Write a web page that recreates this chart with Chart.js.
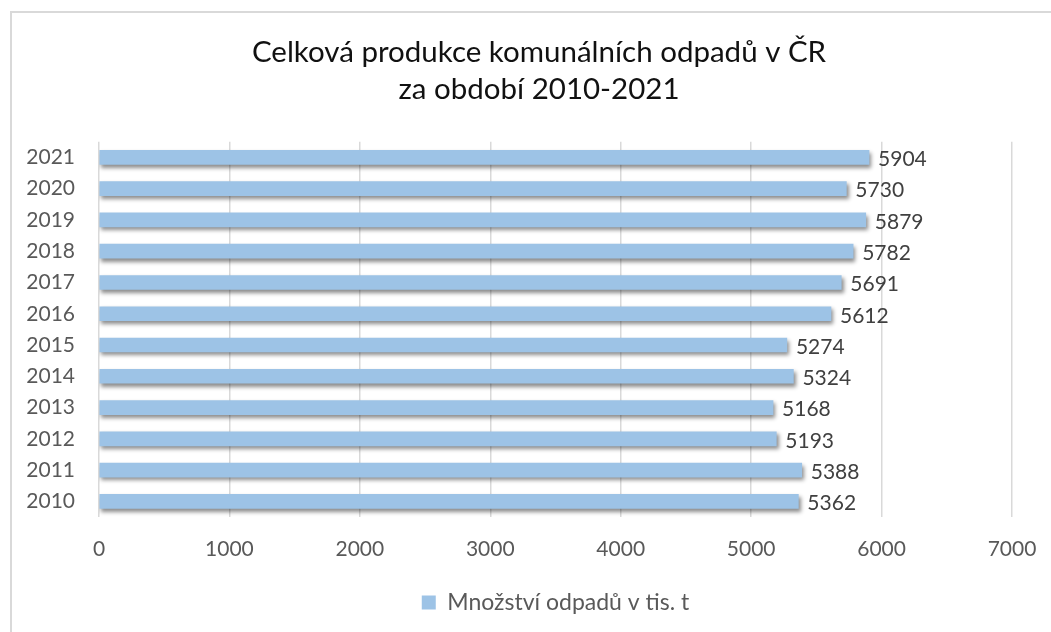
<!DOCTYPE html>
<html>
<head>
<meta charset="utf-8">
<script src="https://cdn.jsdelivr.net/npm/chart.js@4/dist/chart.umd.min.js"></script>
<style>
  html, body { margin: 0; padding: 0; background: #fff; }
  #wrap { width: 1051px; height: 632px; position: relative; }
</style>
</head>
<body>
<div id="wrap"><canvas id="c" width="1051" height="632"></canvas></div>
<script>
const years = ["2021", "2020", "2019", "2018", "2017", "2016", "2015", "2014", "2013", "2012", "2011", "2010"];
const amounts = [5904, 5730, 5879, 5782, 5691, 5612, 5274, 5324, 5168, 5193, 5388, 5362];
const xTicks = [0, 1000, 2000, 3000, 4000, 5000, 6000, 7000];
const seriesName = "Množství odpadů v tis. t";

const FONT = "Lato, 'Open Sans', sans-serif";

// frame lines top and left, like the exported chart
const framePlugin = {
  id: "frame",
  beforeDraw(chart) {
    const ctx = chart.ctx;
    ctx.save();
    ctx.fillStyle = "#fff";
    ctx.fillRect(0, 0, chart.width, chart.height);
    ctx.strokeStyle = "#d9d9d9";
    ctx.lineWidth = 2;
    ctx.beginPath();
    ctx.moveTo(11, chart.height);
    ctx.lineTo(11, 12);
    ctx.lineTo(chart.width, 12);
    ctx.stroke();
    ctx.restore();
  },
  afterLayout(chart) {
    // the original title sits a bit right of the canvas centre
    chart.titleBlock.left = 66;
  }
};

// soft shadow under the bars
const shadowPlugin = {
  id: "barShadow",
  beforeDatasetDraw(chart) {
    const ctx = chart.ctx;
    ctx.save();
    ctx.shadowColor = "rgba(0,0,0,0.45)";
    ctx.shadowBlur = 4;
    ctx.shadowOffsetX = 2;
    ctx.shadowOffsetY = 3;
  },
  afterDatasetDraw(chart) {
    chart.ctx.restore();
  }
};

// value labels at the end of each bar
const labelPlugin = {
  id: "valueLabels",
  afterDatasetsDraw(chart) {
    const ctx = chart.ctx;
    const meta = chart.getDatasetMeta(0);
    ctx.save();
    ctx.font = "21px " + FONT;
    ctx.fillStyle = "#404040";
    ctx.textAlign = "left";
    ctx.textBaseline = "middle";
    meta.data.forEach((bar, i) => {
      ctx.fillText(String(amounts[i]), bar.x + 9, bar.y + 2);
    });
    ctx.restore();
  }
};

new Chart(document.getElementById("c"), {
  type: "bar",
  data: {
    labels: years,
    datasets: [{
      label: seriesName,
      data: amounts,
      backgroundColor: "#9dc3e6",
      borderWidth: 0,
      barThickness: 14
    }]
  },
  plugins: [framePlugin, shadowPlugin, labelPlugin],
  options: {
    indexAxis: "y",
    responsive: false,
    animation: false,
    layout: { padding: { top: 20, right: 39, bottom: 8, left: 0 } },
    scales: {
      x: {
        min: 0,
        max: 7000,
        afterBuildTicks(scale) { scale.ticks = xTicks.map(v => ({ value: v })); },
        afterFit(scale) {
          scale.height = 62;
          // let the layout padding alone decide the right edge
          scale.paddingLeft = 0;
          scale.paddingRight = 0;
        },
        grid: { color: "#d9d9d9", lineWidth: 1.5, drawTicks: false },
        border: { display: false },
        ticks: {
          color: "#595959",
          font: { family: FONT, size: 21 },
          padding: 20,
          callback: (v) => String(v)
        }
      },
      y: {
        grid: { display: false },
        border: { display: false },
        afterFit(scale) { scale.width = 99; },
        ticks: { color: "#595959", font: { family: FONT, size: 21 }, padding: 16 }
      }
    },
    plugins: {
      title: {
        display: true,
        text: ["Celková produkce komunálních odpadů v ČR", "za období 2010-2021"],
        color: "#111111",
        font: { family: FONT, size: 29.5, weight: "normal", lineHeight: 1.25 },
        padding: { top: 14, bottom: 34 }
      },
      legend: {
        position: "bottom",
        fullSize: false,
        labels: {
          color: "#595959",
          font: { family: FONT, size: 23 },
          boxWidth: 14,
          boxHeight: 14,
          padding: 12
        }
      },
      tooltip: { enabled: false }
    }
  }
});
</script>
</body>
</html>
